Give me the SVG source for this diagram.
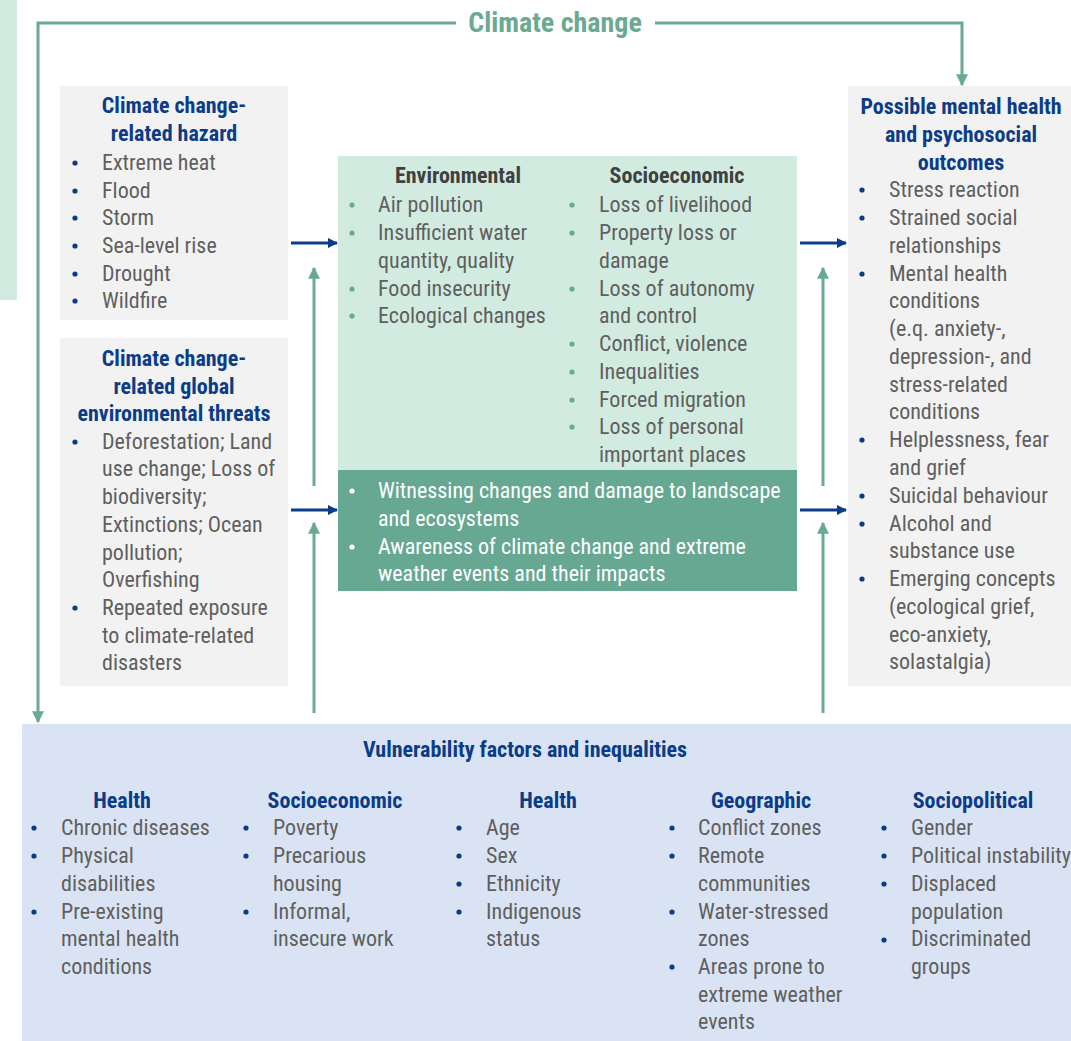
<svg xmlns="http://www.w3.org/2000/svg" width="1071" height="1041" viewBox="0 0 1071 1041">
<defs>
<style>
.bg{fill:#ffffff}
.grey{fill:#F2F2F2}
.lg{fill:#D2EBE0}
.dg{fill:#66A892}
.blue{fill:#DAE3F3}
text{font-family:"Liberation Sans Narrow","Roboto Condensed","Arial Narrow","Liberation Sans",sans-serif;font-size:22px}
.h{font-weight:bold;fill:#0B3C88;text-anchor:middle}
.hg{font-weight:bold;fill:#404040;text-anchor:middle}
.t{fill:#5F5F5F}
.tw{fill:#FFFFFF}
.title{font-weight:bold;fill:#6AAA92;font-size:28px;text-anchor:middle}
.bb{fill:#0B3C88}
.bgr{fill:#6AAA92}
.bw{fill:#FFFFFF}
.gl{stroke:#6AAA92;stroke-width:3;fill:none}
.bl{stroke:#0B3C88;stroke-width:3;fill:none}
</style>
<marker id="ag" viewBox="0 0 10 10" refX="9" refY="5" markerWidth="4" markerHeight="4" orient="auto" markerUnits="strokeWidth">
<path d="M0,0 L10,5 L0,10 z" fill="#6AAA92"/>
</marker>
<marker id="ab" viewBox="0 0 10 10" refX="9" refY="5" markerWidth="3.5" markerHeight="3.5" orient="auto" markerUnits="strokeWidth">
<path d="M0,0 L10,5 L0,10 z" fill="#0B3C88"/>
</marker>
</defs>
<rect x="0" y="0" width="1071" height="1041" class="bg"/>
<rect x="0" y="0" width="17" height="300" class="lg"/>

<g id="connectors">
<polyline class="gl" points="456,23 38,23 38,722" marker-end="url(#ag)"/>
<polyline class="gl" points="655,23 962,23 962,85" marker-end="url(#ag)"/>
<line class="gl" x1="314" y1="486" x2="314" y2="268" marker-end="url(#ag)"/>
<line class="gl" x1="314" y1="713" x2="314" y2="523" marker-end="url(#ag)"/>
<line class="gl" x1="823" y1="486" x2="823" y2="268" marker-end="url(#ag)"/>
<line class="gl" x1="823" y1="713" x2="823" y2="523" marker-end="url(#ag)"/>
<line class="bl" x1="291" y1="243" x2="337" y2="243" marker-end="url(#ab)"/>
<line class="bl" x1="291" y1="510" x2="337" y2="510" marker-end="url(#ab)"/>
<line class="bl" x1="800" y1="243" x2="846" y2="243" marker-end="url(#ab)"/>
<line class="bl" x1="800" y1="510" x2="846" y2="510" marker-end="url(#ab)"/>
</g>

<g id="climate-change">
<text x="555" y="32" class="title">Climate change</text>
</g>

<g id="hazard">
<rect x="60" y="86" width="228" height="234" class="grey"/>
<text x="174" y="113" class="h">Climate change-</text>
<text x="174" y="141" class="h">related hazard</text>
<g class="bb"><circle cx="75" cy="163" r="2.6"/><circle cx="75" cy="191" r="2.6"/><circle cx="75" cy="218" r="2.6"/><circle cx="75" cy="246" r="2.6"/><circle cx="75" cy="274" r="2.6"/><circle cx="75" cy="301" r="2.6"/></g>
<text class="t" x="102" y="170">Extreme heat</text>
<text class="t" x="102" y="198">Flood</text>
<text class="t" x="102" y="225">Storm</text>
<text class="t" x="102" y="253">Sea-level rise</text>
<text class="t" x="102" y="281">Drought</text>
<text class="t" x="102" y="308">Wildfire</text>
</g>

<g id="threats">
<rect x="60" y="338" width="228" height="348" class="grey"/>
<text x="174" y="366" class="h">Climate change-</text>
<text x="174" y="394" class="h">related global</text>
<text x="174" y="421" class="h">environmental threats</text>
<g class="bb"><circle cx="75" cy="442" r="2.6"/><circle cx="75" cy="608" r="2.6"/></g>
<text class="t" x="102" y="449">Deforestation; Land</text>
<text class="t" x="102" y="476">use change; Loss of</text>
<text class="t" x="102" y="504">biodiversity;</text>
<text class="t" x="102" y="532">Extinctions; Ocean</text>
<text class="t" x="102" y="560">pollution;</text>
<text class="t" x="102" y="587">Overfishing</text>
<text class="t" x="102" y="615">Repeated exposure</text>
<text class="t" x="102" y="643">to climate-related</text>
<text class="t" x="102" y="670">disasters</text>
</g>

<g id="pathways">
<rect x="338" y="156" width="459" height="314" class="lg"/>
<text x="458" y="183" class="hg">Environmental</text>
<text x="677" y="183" class="hg">Socioeconomic</text>
<g class="bgr"><circle cx="352" cy="205" r="2.6"/><circle cx="352" cy="233" r="2.6"/><circle cx="352" cy="289" r="2.6"/><circle cx="352" cy="316" r="2.6"/>
<circle cx="572" cy="205" r="2.6"/><circle cx="572" cy="233" r="2.6"/><circle cx="572" cy="289" r="2.6"/><circle cx="572" cy="344" r="2.6"/><circle cx="572" cy="372" r="2.6"/><circle cx="572" cy="400" r="2.6"/><circle cx="572" cy="427" r="2.6"/></g>
<text class="t" x="378" y="212">Air pollution</text>
<text class="t" x="378" y="240">Insufficient water</text>
<text class="t" x="378" y="268">quantity, quality</text>
<text class="t" x="378" y="296">Food insecurity</text>
<text class="t" x="378" y="323">Ecological changes</text>
<text class="t" x="599" y="212">Loss of livelihood</text>
<text class="t" x="599" y="240">Property loss or</text>
<text class="t" x="599" y="268">damage</text>
<text class="t" x="599" y="296">Loss of autonomy</text>
<text class="t" x="599" y="323">and control</text>
<text class="t" x="599" y="351">Conflict, violence</text>
<text class="t" x="599" y="379">Inequalities</text>
<text class="t" x="599" y="407">Forced migration</text>
<text class="t" x="599" y="434">Loss of personal</text>
<text class="t" x="599" y="462">important places</text>
</g>

<g id="psychological">
<rect x="338" y="470" width="459" height="121" class="dg"/>
<g class="bw"><circle cx="352" cy="491" r="2.6"/><circle cx="352" cy="547" r="2.6"/></g>
<text class="tw" x="378" y="498">Witnessing changes and damage to landscape</text>
<text class="tw" x="378" y="526">and ecosystems</text>
<text class="tw" x="378" y="554">Awareness of climate change and extreme</text>
<text class="tw" x="378" y="581">weather events and their impacts</text>
</g>

<g id="outcomes">
<rect x="848" y="86" width="223" height="600" class="grey"/>
<text x="961" y="114" class="h">Possible mental health</text>
<text x="961" y="142" class="h">and psychosocial</text>
<text x="961" y="170" class="h">outcomes</text>
<g class="bb"><circle cx="862" cy="190" r="2.6"/><circle cx="862" cy="218" r="2.6"/><circle cx="862" cy="274" r="2.6"/><circle cx="862" cy="440" r="2.6"/><circle cx="862" cy="496" r="2.6"/><circle cx="862" cy="524" r="2.6"/><circle cx="862" cy="579" r="2.6"/></g>
<text class="t" x="889" y="197">Stress reaction</text>
<text class="t" x="889" y="225">Strained social</text>
<text class="t" x="889" y="253">relationships</text>
<text class="t" x="889" y="281">Mental health</text>
<text class="t" x="889" y="308">conditions</text>
<text class="t" x="889" y="336">(e.q. anxiety-,</text>
<text class="t" x="889" y="364">depression-, and</text>
<text class="t" x="889" y="392">stress-related</text>
<text class="t" x="889" y="419">conditions</text>
<text class="t" x="889" y="447">Helplessness, fear</text>
<text class="t" x="889" y="475">and grief</text>
<text class="t" x="889" y="503">Suicidal behaviour</text>
<text class="t" x="889" y="531">Alcohol and</text>
<text class="t" x="889" y="558">substance use</text>
<text class="t" x="889" y="586">Emerging concepts</text>
<text class="t" x="889" y="614">(ecological grief,</text>
<text class="t" x="889" y="642">eco-anxiety,</text>
<text class="t" x="889" y="669">solastalgia)</text>
</g>

<g id="vulnerability">
<rect x="22" y="724" width="1049" height="317" class="blue"/>
<text x="525" y="757" class="h">Vulnerability factors and inequalities</text>
<text x="122" y="808" class="h">Health</text>
<text x="335" y="808" class="h">Socioeconomic</text>
<text x="548" y="808" class="h">Health</text>
<text x="761" y="808" class="h">Geographic</text>
<text x="973" y="808" class="h">Sociopolitical</text>
<g class="bb">
<circle cx="34" cy="828" r="2.6"/><circle cx="34" cy="856" r="2.6"/><circle cx="34" cy="912" r="2.6"/>
<circle cx="246" cy="828" r="2.6"/><circle cx="246" cy="856" r="2.6"/><circle cx="246" cy="912" r="2.6"/>
<circle cx="459" cy="828" r="2.6"/><circle cx="459" cy="856" r="2.6"/><circle cx="459" cy="884" r="2.6"/><circle cx="459" cy="912" r="2.6"/>
<circle cx="672" cy="828" r="2.6"/><circle cx="672" cy="856" r="2.6"/><circle cx="672" cy="912" r="2.6"/><circle cx="672" cy="967" r="2.6"/>
<circle cx="884" cy="828" r="2.6"/><circle cx="884" cy="856" r="2.6"/><circle cx="884" cy="884" r="2.6"/><circle cx="884" cy="940" r="2.6"/>
</g>
<text class="t" x="61" y="835">Chronic diseases</text>
<text class="t" x="61" y="863">Physical</text>
<text class="t" x="61" y="891">disabilities</text>
<text class="t" x="61" y="919">Pre-existing</text>
<text class="t" x="61" y="946">mental health</text>
<text class="t" x="61" y="974">conditions</text>
<text class="t" x="273" y="835">Poverty</text>
<text class="t" x="273" y="863">Precarious</text>
<text class="t" x="273" y="891">housing</text>
<text class="t" x="273" y="919">Informal,</text>
<text class="t" x="273" y="946">insecure work</text>
<text class="t" x="486" y="835">Age</text>
<text class="t" x="486" y="863">Sex</text>
<text class="t" x="486" y="891">Ethnicity</text>
<text class="t" x="486" y="919">Indigenous</text>
<text class="t" x="486" y="946">status</text>
<text class="t" x="698" y="835">Conflict zones</text>
<text class="t" x="698" y="863">Remote</text>
<text class="t" x="698" y="891">communities</text>
<text class="t" x="698" y="919">Water-stressed</text>
<text class="t" x="698" y="946">zones</text>
<text class="t" x="698" y="974">Areas prone to</text>
<text class="t" x="698" y="1002">extreme weather</text>
<text class="t" x="698" y="1029">events</text>
<text class="t" x="911" y="835">Gender</text>
<text class="t" x="911" y="863">Political instability</text>
<text class="t" x="911" y="891">Displaced</text>
<text class="t" x="911" y="919">population</text>
<text class="t" x="911" y="946">Discriminated</text>
<text class="t" x="911" y="974">groups</text>
</g>
</svg>
